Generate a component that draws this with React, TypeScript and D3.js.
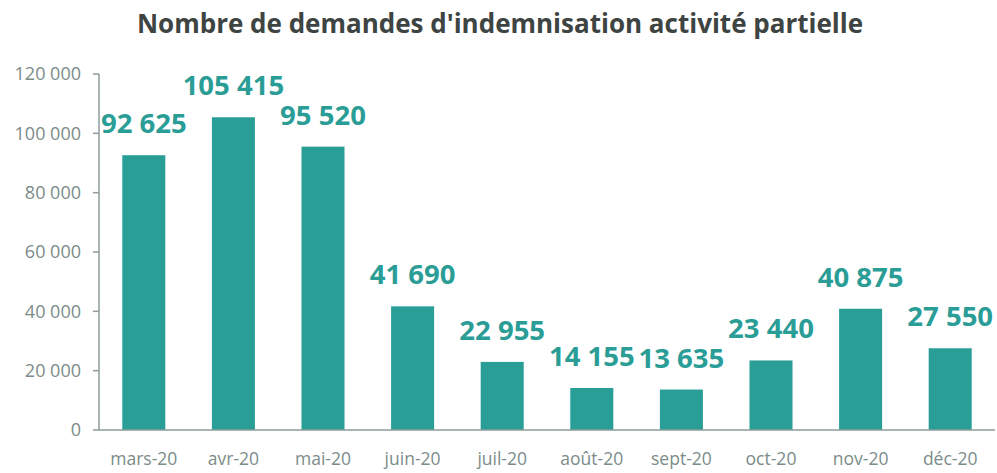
import React from "react";
import * as d3 from "d3";

const categories = ["mars-20", "avr-20", "mai-20", "juin-20", "juil-20", "août-20", "sept-20", "oct-20", "nov-20", "déc-20"];
const values = [92625, 105415, 95520, 41690, 22955, 14155, 13635, 23440, 40875, 27550];
const yTicks = [0, 20000, 40000, 60000, 80000, 100000, 120000];
const title = "Nombre de demandes d'indemnisation activité partielle";

const W = 997, H = 473;
const left = 99, right = 995, top = 74, bottom = 430;
const fmt = (v: number) => d3.format(",")(v).replace(/,/g, " ");

export default function App() {
  const x = d3.scaleBand<string>().domain(categories).range([left, right]).paddingInner(0.52).paddingOuter(0.26);
  const y = d3.scaleLinear().domain([0, 120000]).range([bottom, top]);
  const axisColor = "#8c9c9a";
  const textGray = "#7b8c89";
  const teal = "#289e97";
  return (
    <svg width={W} height={H} style={{ position: "absolute", left: 0, top: 0 }}>
      <rect width={W} height={H} fill="#fff" />
      <text x={500} y={33} textAnchor="middle" fontFamily="'Open Sans', sans-serif" fontWeight={700} fontSize={26} fill="#3d4442">{title}</text>
      {yTicks.map((t) => (
        <g key={t}>
          <line x1={93} x2={left} y1={y(t)} y2={y(t)} stroke={axisColor} strokeWidth={1.5} />
          <text x={81} y={y(t)} dy="0.35em" textAnchor="end" fontFamily="'Open Sans', sans-serif" fontSize={18} fill={textGray}>{fmt(t)}</text>
        </g>
      ))}
      <line x1={left} x2={left} y1={top} y2={bottom} stroke={axisColor} strokeWidth={1.5} />
      {categories.map((c, i) => (
        <g key={c}>
          <rect x={x(c)} y={y(values[i])} width={x.bandwidth()} height={bottom - y(values[i])} fill={teal} />
          <text x={(x(c) as number) + x.bandwidth() / 2} y={y(values[i]) - 22} textAnchor="middle" fontFamily="'Open Sans', sans-serif" fontWeight={700} fontSize={27.5} fill="#2a9d96">{fmt(values[i])}</text>
          <text x={(x(c) as number) + x.bandwidth() / 2} y={465} textAnchor="middle" fontFamily="'Open Sans', sans-serif" fontSize={17.5} fill={textGray}>{c}</text>
        </g>
      ))}
      <line x1={left} x2={right} y1={bottom} y2={bottom} stroke={axisColor} strokeWidth={1.5} />
    </svg>
  );
}
